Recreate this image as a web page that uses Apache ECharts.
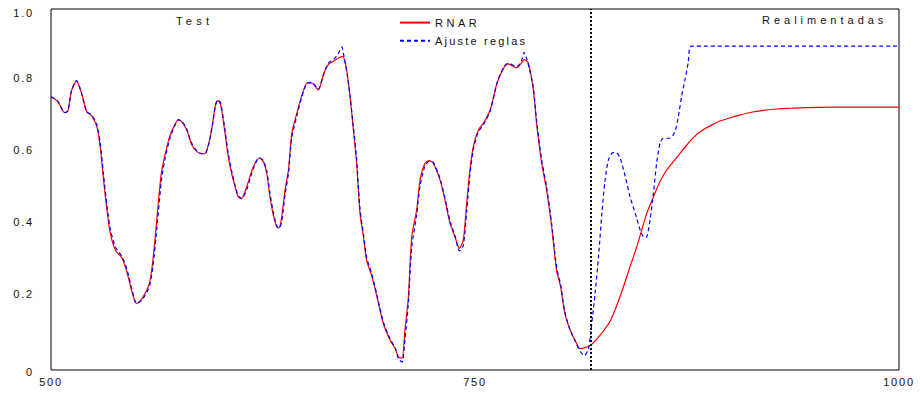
<!DOCTYPE html>
<html>
<head>
<meta charset="utf-8">
<script src="https://cdn.jsdelivr.net/npm/echarts@6/dist/echarts.min.js"></script>
<style>
  html, body { margin: 0; padding: 0; background: #fff; }
  #chart { width: 920px; height: 396px; }
  #chart text { letter-spacing: 1.8px; }
</style>
</head>
<body>
<div id="chart"></div>
<script>
// ---- data ----
const xTicks = [500, 750, 1000];
const yTickLabels = { 0: '0', 0.2: '0.2', 0.4: '0.4', 0.6: '0.6', 0.8: '0.8', 1: '1.0' };
const seriesNames = ['RNAR', 'Ajuste reglas'];
const regionLabels = ['Test', 'Realimentadas'];
const splitX = 818;

// RNAR (red) [x, value]
const rnar = [
  [500,0.757],[504,0.744],[508,0.713],[510,0.718],[512,0.772],[515,0.800],[518,0.767],[521,0.716],
  [524,0.704],[527,0.674],[529,0.619],[531,0.526],[533,0.443],[535,0.378],[538,0.332],[542,0.309],
  [545,0.267],[548,0.212],[550.5,0.184],[554,0.200],[558,0.240],[560,0.300],[562,0.397],[565,0.545],
  [567,0.591],[570,0.647],[573,0.679],[575,0.693],[577,0.688],[580,0.665],[583,0.624],[586,0.605],
  [589,0.599],[591,0.600],[593,0.628],[595,0.675],[597,0.735],[598.3,0.746],[600,0.735],[602.6,0.656],
  [604.5,0.591],[606.5,0.545],[608.5,0.508],[610.4,0.480],[612.4,0.475],[615.4,0.508],[619.3,0.563],
  [622.8,0.588],[625.2,0.577],[627.2,0.545],[629.1,0.480],[631.1,0.429],[633.1,0.397],[634.4,0.394],
  [636,0.424],[638,0.499],[640,0.554],[642,0.656],[645,0.712],[648,0.762],[651,0.795],[653.7,0.795],
  [657.6,0.776],[660.6,0.818],[663.5,0.846],[666.5,0.855],[669.4,0.864],[672,0.869],[674.3,0.832],
  [676.3,0.758],[678.3,0.665],[680.2,0.573],[682.2,0.434],[684.2,0.369],[686.1,0.304],[689,0.262],
  [692,0.207],[696,0.128],[700,0.082],[703,0.059],[705,0.035],[707,0.033],[708.7,0.110],[710.7,0.202],
  [712.7,0.369],[715.6,0.443],[717.6,0.526],[720.5,0.573],[723,0.580],[725.4,0.573],[729.4,0.526],
  [732.3,0.471],[735.3,0.406],[738.2,0.369],[740.8,0.337],[743.1,0.360],[745.1,0.462],[747,0.554],
  [749,0.619],[752,0.665],[755,0.684],[759,0.721],[763,0.795],[767,0.837],[769.6,0.848],[774.5,0.837],
  [777.5,0.851],[779,0.860],[781.4,0.851],[784.4,0.776],[786.3,0.684],[789.3,0.573],[792.2,0.499],
  [795.2,0.397],[798.1,0.276],[800.5,0.230],[803,0.156],[806,0.112],[809,0.082],[812,0.059],[815,0.062],
  [818,0.068],[822,0.087],[826,0.110],[830,0.138],[834,0.184],[837.5,0.230],[841.4,0.286],[845.4,0.341],
  [848.3,0.388],[851.3,0.434],[855.2,0.480],[859.1,0.522],[863,0.554],[867,0.577],[871,0.601],[875,0.624],
  [879,0.645],[884,0.664],[889,0.677],[894,0.689],[900,0.698],[906,0.706],[913,0.714],[920,0.719],
  [928,0.723],[936,0.725],[945,0.727],[960,0.728],[980,0.728],[1000,0.728]
];

// Ajuste reglas (blue, dashed) [x, value]
const ajuste = [
  [500,0.757],[504,0.744],[508,0.713],[510,0.718],[512,0.772],[515,0.802],[518,0.767],[521,0.716],
  [524,0.706],[527,0.680],[529,0.630],[531,0.540],[533,0.455],[535,0.390],[538,0.340],[542,0.313],
  [545,0.275],[548,0.218],[550.5,0.184],[554,0.196],[558,0.232],[560,0.285],[562,0.372],[565,0.520],
  [567,0.580],[570,0.640],[573,0.677],[575,0.693],[577,0.690],[580,0.668],[583,0.628],[586,0.607],
  [589,0.599],[591,0.600],[593,0.625],[595,0.672],[597,0.733],[598.3,0.748],[600,0.740],[602.6,0.665],
  [604.5,0.600],[606.5,0.552],[608.5,0.512],[610.4,0.483],[612.4,0.475],[615.4,0.500],[619.3,0.558],
  [622.8,0.588],[625.2,0.580],[627.2,0.552],[629.1,0.490],[631.1,0.436],[633.1,0.400],[634.4,0.392],
  [636,0.410],[638,0.485],[640,0.545],[642,0.645],[645,0.705],[648,0.758],[651,0.795],[653.7,0.797],
  [657.6,0.778],[660.6,0.818],[663.5,0.850],[666.5,0.860],[669.4,0.876],[671.4,0.895],[673,0.862],
  [674.6,0.820],[676.3,0.760],[678.3,0.672],[680.2,0.585],[682.2,0.445],[684.2,0.378],[686.1,0.312],
  [689,0.268],[692,0.212],[696,0.132],[700,0.086],[703,0.060],[705,0.030],[707,0.022],[708.7,0.085],
  [710.7,0.185],[712.7,0.340],[715.6,0.430],[717.6,0.510],[720.5,0.565],[723,0.578],[725.4,0.575],
  [729.4,0.530],[732.3,0.476],[735.3,0.412],[738.2,0.372],[740.8,0.330],[743.1,0.345],[745.1,0.440],
  [747,0.540],[749,0.610],[752,0.660],[755,0.680],[759,0.718],[763,0.795],[767,0.840],[769.6,0.850],
  [774.5,0.840],[777.5,0.858],[779,0.880],[780.5,0.862],[782,0.835],[784.4,0.782],[786.3,0.692],
  [789.3,0.582],[792.2,0.508],[795.2,0.405],[798.1,0.285],[800.5,0.236],[803,0.160],[806,0.112],
  [809,0.080],[812,0.052],[814.5,0.040],[816.9,0.059],[818.8,0.128],[820.8,0.212],[822.8,0.313],
  [824.8,0.434],[826.7,0.526],[828.7,0.582],[831.3,0.602],[833.3,0.602],[835.6,0.587],[838.6,0.536],
  [841.4,0.480],[844.5,0.434],[847.4,0.388],[849.8,0.367],[851.3,0.369],[853.2,0.415],[855.2,0.489],
  [857.1,0.573],[859.1,0.628],[861,0.642],[865,0.642],[867.9,0.661],[869.9,0.702],[871.8,0.758],
  [873.8,0.804],[875.7,0.851],[877.7,0.897],[1000,0.897]
];

// ---- chart ----
const FONT = '"Liberation Sans", Arial, Helvetica, sans-serif';
const chart = echarts.init(document.getElementById('chart'), null, { renderer: 'svg' });

const labelRich = {
  top: { fontFamily: FONT, fontSize: 11, color: '#111', padding: [7, 0, 0, 0] },
  mid: { fontFamily: FONT, fontSize: 11, color: '#111', padding: [0, 0, 7, 0] },
  bot: { fontFamily: FONT, fontSize: 11, color: '#111', padding: [4, 0, 0, 0] }
};

chart.setOption({
  animation: false,
  backgroundColor: '#ffffff',
  grid: {
    left: 51, right: 21, top: 9, bottom: 26,
    show: true, borderColor: '#000', borderWidth: 1, backgroundColor: 'transparent'
  },
  xAxis: {
    type: 'value',
    min: xTicks[0], max: xTicks[xTicks.length - 1],
    interval: xTicks[1] - xTicks[0],
    axisLine: { show: false },
    axisTick: { show: false },
    splitLine: { show: false },
    axisLabel: { color: '#111', fontFamily: FONT, fontSize: 11, margin: 6, formatter: v => String(v) }
  },
  yAxis: {
    type: 'value',
    min: 0, max: 1, interval: 0.2,
    axisLine: { show: false },
    axisTick: { show: false },
    splitLine: { show: false },
    axisLabel: {
      color: '#111', fontFamily: FONT, fontSize: 11, margin: 17,
      formatter: v => {
        const key = Math.round(v * 10) / 10;
        const txt = yTickLabels[key] ?? String(v);
        const style = key === 1 ? 'top' : (key === 0 ? 'bot' : 'mid');
        return '{' + style + '|' + txt + '}';
      },
      rich: labelRich
    }
  },
  legend: {
    orient: 'vertical',
    left: 394, top: 12,
    itemWidth: 30, itemHeight: 14, itemGap: 7,
    textStyle: { color: '#111', fontFamily: FONT, fontSize: 11 },
    itemStyle: { opacity: 0 },
    lineStyle: { width: 2 },
    data: seriesNames
  },
  graphic: [
    { type: 'text', left: 176, top: 15, style: { text: regionLabels[0], fill: '#111', font: '11px ' + FONT } },
    { type: 'text', left: 762, top: 14, style: { text: regionLabels[1], fill: '#111', font: '11px ' + FONT } }
  ],
  series: [
    {
      name: seriesNames[0], type: 'line', data: rnar,
      symbol: 'none', showSymbol: false, smooth: 0.25,
      lineStyle: { color: '#ff0000', width: 1.2 },
      itemStyle: { color: '#ff0000' },
      markLine: {
        silent: true, symbol: 'none', label: { show: false },
        lineStyle: { color: '#000', width: 2, type: [2, 2] },
        data: [{ xAxis: splitX }]
      },
      z: 2
    },
    {
      name: seriesNames[1], type: 'line', data: ajuste,
      symbol: 'none', showSymbol: false, smooth: 0.25,
      lineStyle: { color: '#0000ff', width: 1.2, type: [4, 3] },
      itemStyle: { color: '#0000ff' },
      z: 3
    }
  ]
});

// per-text letter spacing to mimic the wide spacing of the original
const spacing = { 'Test': '4.3px', 'Realimentadas': '4px', 'RNAR': '3.5px', 'Ajuste reglas': '2.2px' };
document.querySelectorAll('#chart text').forEach(t => {
  const s = t.textContent;
  if (spacing[s]) t.style.letterSpacing = spacing[s];
});
</script>
</body>
</html>
